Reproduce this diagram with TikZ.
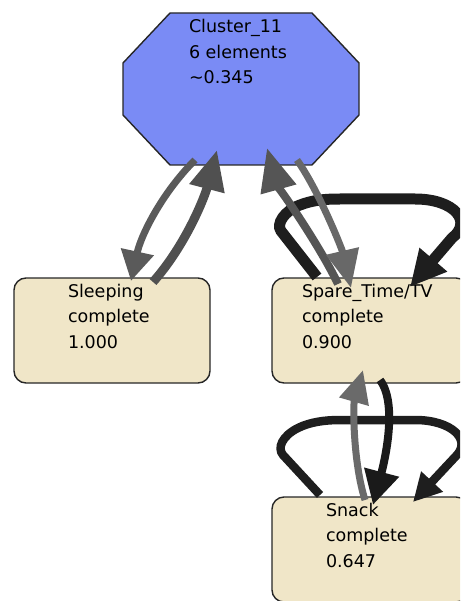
\documentclass[tikz,border=0pt]{standalone}
\usepackage{fontspec}
\setmainfont{DejaVu Sans}
\usetikzlibrary{arrows.meta,calc}

\definecolor{clusterblue}{RGB}{122,139,245}
\definecolor{boxfill}{RGB}{240,230,200}
\definecolor{edgeA}{RGB}{90,90,90}
\definecolor{edgeB}{RGB}{80,80,80}
\definecolor{edgeC}{RGB}{85,85,85}
\definecolor{edgeD}{RGB}{104,104,104}
\definecolor{edgeE}{RGB}{106,106,106}
\definecolor{edgeK}{RGB}{26,26,26}
\definecolor{loopK}{RGB}{30,30,30}

\begin{document}
\begin{tikzpicture}[x=1pt,y=-1pt,
  stateblock/.style={draw=black!85, line width=1.4pt, fill=boxfill,
    rounded corners=12pt, minimum width=196pt, minimum height=105pt,
    inner sep=0pt, outer sep=0pt, anchor=north west},
  clustershape/.style={draw=black!85, line width=1.4pt, fill=clusterblue},
  txt/.style={anchor=base west, inner sep=0pt, outer sep=0pt,
    font=\fontsize{17.5}{25.5}\selectfont},
  link/.style n args={4}{draw=#1, line width=#2,
    -{Triangle[length=#3, width=#4]}},
]
\clip (0,0) rectangle (460,601);

% cluster octagon
\draw[clustershape] (170,13) -- (312,13) -- (359,63) -- (359,115)
  -- (312,165) -- (170,165) -- (123,115) -- (123,63) -- cycle;
\node[inner sep=0pt, outer sep=0pt, minimum width=236pt, minimum height=152pt]
  (cluster) at (241,89) {};
\node[txt] (clustertext) at ($(cluster.north west)+(66,20)$)
  {\begin{tabular}[t]{@{}l@{}}Cluster\_11\\6 elements\\\textasciitilde0.345\end{tabular}};

% state blocks
\node[stateblock] (sleeping) at (14,278) {};
\node[stateblock] (spare) at (272,278) {};
\node[stateblock] (snack) at (272,497) {};
\node[txt] (sleepingtext) at ($(sleeping.north west)+(54,19)$)
  {\begin{tabular}[t]{@{}l@{}}Sleeping\\complete\\1.000\end{tabular}};
\node[txt] (sparetext) at ($(spare.north west)+(30,19)$)
  {\begin{tabular}[t]{@{}l@{}}Spare\_Time/TV\\complete\\0.900\end{tabular}};
\node[txt] (snacktext) at ($(snack.north west)+(54,19)$)
  {\begin{tabular}[t]{@{}l@{}}Snack\\complete\\0.647\end{tabular}};

% edge end points on the nodes
\coordinate (c2sl-a) at ($(cluster.south)+(-46,-5)$);
\coordinate (c2sl-b) at ($(sleeping.north)+(19,3)$);
\coordinate (sl2c-a) at ($(sleeping.north)+(41,4)$);
\coordinate (sl2c-b) at ($(cluster.south)+(-24,-15)$);
\coordinate (s2c-a) at ($(spare.north)+(-32,6)$);
\coordinate (s2c-b) at ($(cluster.south)+(26,-17)$);
\coordinate (c2s-a) at ($(cluster.south)+(56,-5)$);
\coordinate (c2s-b) at ($(spare.north)+(-19,10)$);
\coordinate (sl-a) at ($(spare.north)+(-53,-1)$);
\coordinate (sl-b) at ($(spare.north)+(40,9)$);
\coordinate (sn2s-a) at ($(snack.north)+(-5,3)$);
\coordinate (sn2s-b) at ($(spare.south)+(-7,-13)$);
\coordinate (s2sn-a) at ($(spare.south)+(10,-3)$);
\coordinate (s2sn-b) at ($(snack.north)+(3,8)$);
\coordinate (nl-a) at ($(snack.north)+(-50,-2)$);
\coordinate (nl-b) at ($(snack.north)+(43,5)$);

% self loops
\draw[link={loopK}{11pt}{36pt}{34pt}] (sl-a) -- (281,231)
  .. controls (276,224) and (284,211) .. (300,205)
  .. controls (313,200) and (325,199) .. (340,199) -- (415,199)
  .. controls (455,199) and (473,222) .. (452,238) -- (sl-b);
\draw[link={loopK}{8.5pt}{28pt}{28pt}] (nl-a) -- (283,455)
  .. controls (277,448) and (282,436) .. (298,428)
  .. controls (310,422) and (325,420) .. (340,420) -- (415,420)
  .. controls (452,420) and (472,440) .. (456,456) -- (nl-b);

% transitions
\draw[link={edgeA}{7pt}{30pt}{32pt}] (c2sl-a) .. controls (162,193) and (141,235) .. (c2sl-b);
\draw[link={edgeB}{9pt}{40pt}{34pt}] (sl2c-a) .. controls (186,245) and (205,196) .. (sl2c-b);
\draw[link={edgeC}{8pt}{43pt}{35pt}] (s2c-a) .. controls (320,246) and (277,184) .. (s2c-b);
\draw[link={edgeD}{7pt}{38pt}{32pt}] (c2s-a) .. controls (319,191) and (342,249) .. (c2s-b);
\draw[link={edgeE}{7pt}{33pt}{29pt}] (sn2s-a) .. controls (353,462) and (353,405) .. (sn2s-b);
\draw[link={edgeK}{8pt}{34pt}{34pt}] (s2sn-a) .. controls (399,405) and (383,467) .. (s2sn-b);
\end{tikzpicture}
\end{document}
